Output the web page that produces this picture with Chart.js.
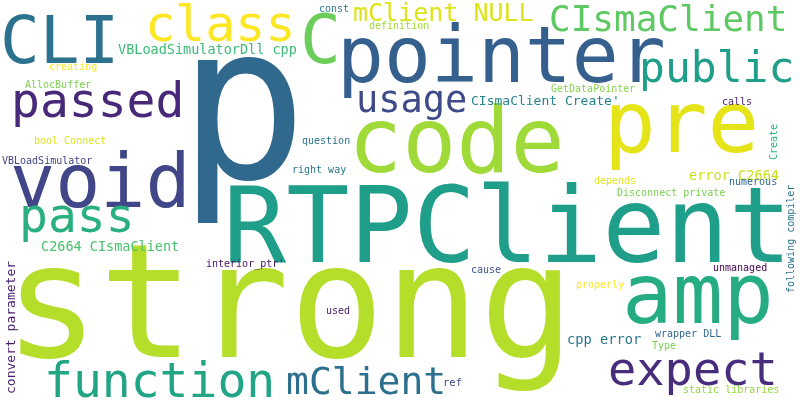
<!DOCTYPE html>
<html>
<head>
<meta charset="utf-8">
<script src="https://cdn.jsdelivr.net/npm/chart.js@4"></script>
<style>
  html, body { margin: 0; padding: 0; background: #fff; }
  #wrap { width: 800px; height: 400px; }
</style>
</head>
<body>
<div id="wrap"><canvas id="cloud"></canvas></div>
<script>
// words of the cloud and their weight (font size in px on a 400px high chart)
const words = ["p", "strong", "RTPClient", "pointer", "code", "pre", "CLI", "void", "amp", "class",
  "C", "passed", "public", "usage", "function", "expect", "mClient", "pass", "CIsmaClient", "mClient NULL",
  "VBLoadSimulatorDll cpp", "CIsmaClient Create'", "C2664 CIsmaClient", "error C2664", "cpp error",
  "convert parameter", "const", "definition", "creating", "AllocBuffer", "bool Connect", "question",
  "VBLoadSimulator", "right way", "GetDataPointer", "calls", "Create", "depends", "numerous",
  "Disconnect private", "following compiler", "interior_ptr'", "used", "cause", "unmanaged",
  "properly", "wrapper DLL", "Type", "ref", "static libraries"];
const weights = [215, 158, 105, 78, 90, 86, 66, 75, 84, 50,
  68, 48, 43, 37, 48, 47, 38, 48, 36, 25,
  13.5, 13, 13.5, 13.6, 13.7,
  13, 10, 10, 10, 10, 10, 10,
  10, 10, 10, 10, 10, 10, 10,
  10, 10, 10, 10, 10, 10,
  10, 10, 10, 10.5, 10];

// where each word sits in the cloud (value space 0-800 x 0-400, baseline start)
const wordX = [178, 4, 223, 337, 348, 604, 0, 10, 622, 145,
  300, 11, 639, 356, 44, 608, 286, 19, 549, 353,
  118, 471, 41, 689, 567,
  15, 319, 369, 49, 25, 34, 302,
  2, 292, 551, 722, 777, 594, 729,
  617, 794, 206, 326, 471, 713,
  576, 655, 652, 443, 683];
const wordY = [178, 357, 262, 82, 172, 152, 63, 207, 323, 41,
  63, 117, 82, 112, 397, 385, 394, 232, 31, 21,
  54, 105, 251, 180, 344,
  394, 12, 29, 70, 88, 144, 144,
  164, 173, 92, 105, 160, 184, 185,
  196, 293, 267, 314, 273, 271,
  288, 337, 349, 386, 393];
// words that run upwards
const upright = ["convert parameter", "Create", "following compiler"];

const colors = ["#31688e", "#b5de2b", "#1f9e89", "#355f8d", "#a0da39", "#e5e419", "#2c728e", "#404688", "#25ac82", "#fde725",
  "#6ccd5a", "#482878", "#1f9e89", "#3e4a89", "#21a585", "#472d7b", "#2d708e", "#2ab07f", "#5ec962", "#dde318",
  "#3bbb75", "#25838e", "#4ac16d", "#c8e020", "#2a788e",
  "#481a6c", "#2a788e", "#a0da39", "#fde725", "#7ad151", "#dde318", "#2c728e",
  "#414487", "#2a788e", "#84d44b", "#481f70", "#2fb47c", "#e5e419", "#31688e",
  "#7ad151", "#2c728e", "#481467", "#482475", "#3b528b", "#440154",
  "#fde725", "#31688e", "#7ad151", "#3e4989", "#95d840"];

const wordPlugin = {
  id: "words",
  afterDatasetsDraw(chart) {
    const ctx = chart.ctx;
    const meta = chart.getDatasetMeta(0);
    const k = chart.chartArea.height / 400;
    ctx.save();
    ctx.textAlign = "left";
    ctx.textBaseline = "alphabetic";
    meta.data.forEach((pt, i) => {
      ctx.save();
      ctx.translate(pt.x, pt.y);
      if (upright.includes(words[i])) ctx.rotate(-Math.PI / 2);
      ctx.font = (weights[i] * k) + 'px "DejaVu Sans Mono"';
      ctx.fillStyle = colors[i];
      ctx.fillText(words[i], 0, 0);
      ctx.restore();
    });
    ctx.restore();
  }
};

new Chart(document.getElementById("cloud"), {
  type: "scatter",
  data: {
    labels: words,
    datasets: [{
      data: words.map((w, i) => ({ x: wordX[i], y: wordY[i] })),
      pointRadius: 0,
      pointHoverRadius: 0
    }]
  },
  options: {
    responsive: true,
    maintainAspectRatio: false,
    animation: false,
    layout: { padding: 0 },
    plugins: { legend: { display: false }, tooltip: { enabled: false } },
    events: [],
    scales: {
      x: { type: "linear", min: 0, max: 800, display: false },
      y: { type: "linear", min: 0, max: 400, reverse: true, display: false }
    }
  },
  plugins: [wordPlugin]
});
</script>
</body>
</html>
